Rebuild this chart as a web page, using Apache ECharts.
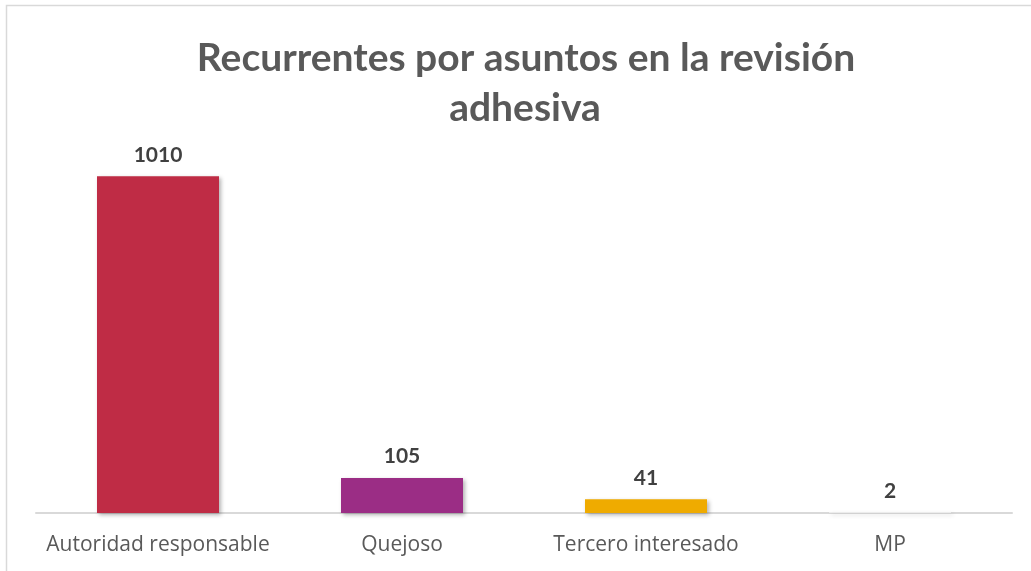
<!DOCTYPE html>
<html><head><meta charset="utf-8">
<script src="https://cdn.jsdelivr.net/npm/echarts@6/dist/echarts.min.js"></script>
<style>html,body{margin:0;padding:0;background:#fff}#c{width:1031px;height:571px}</style>
</head><body><div id="c"></div>
<script>
const categories = ['Autoridad responsable', 'Quejoso', 'Tercero interesado', 'MP'];
const values = [1010, 105, 41, 2];
const barColors = ['#BF2C45', '#9B2D85', '#EFAB00', '#F4F4F4'];
const titleLines = ['Recurrentes por asuntos en la revisión', 'adhesiva'];

const chart = echarts.init(document.getElementById('c'));
chart.setOption({
  backgroundColor: '#fff',
  animation: false,
  graphic: [
    { type: 'rect', shape: { x: 6.5, y: 5.5, width: 1040, height: 600 }, style: { fill: 'none', stroke: '#D9D9D9', lineWidth: 1.5 } },
    { type: 'text', x: 526, y: 58, style: { text: titleLines[0], font: 'bold 39px Lato', fill: '#595959', textAlign: 'center', textVerticalAlign: 'middle' } },
    { type: 'text', x: 525, y: 108, style: { text: titleLines[1], font: 'bold 39px Lato', fill: '#595959', textAlign: 'center', textVerticalAlign: 'middle' } }
  ],
  grid: { left: 36, right: 19, top: 113, bottom: 58, containLabel: false },
  xAxis: {
    type: 'category', data: categories,
    axisLine: { lineStyle: { color: '#D9D9D9', width: 2 } },
    axisTick: { show: false },
    axisLabel: { interval: 0, color: '#595959', fontSize: 21, fontFamily: 'Open Sans', margin: 22 }
  },
  yAxis: { type: 'value', min: 0, max: 1200, show: false, splitLine: { show: false } },
  series: [{
    type: 'bar', barWidth: '50%',
    data: values.map((v, i) => ({ value: v, itemStyle: { color: barColors[i] } })),
    itemStyle: { shadowBlur: 4, shadowOffsetX: 2, shadowOffsetY: 2, shadowColor: 'rgba(0,0,0,0.3)' },
    label: { show: true, position: 'top', distance: 11, color: '#404040', fontWeight: 'bold', fontSize: 21, fontFamily: 'Lato' }
  }]
});
</script></body></html>
